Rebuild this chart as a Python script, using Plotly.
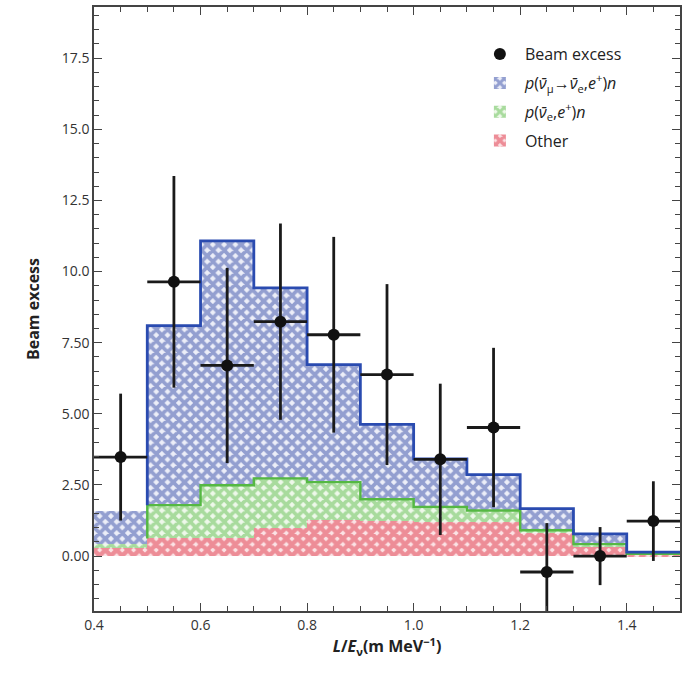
import plotly.graph_objects as go

# ---- data ----
bin_lo = [0.4, 0.5, 0.6, 0.7, 0.8, 0.9, 1.0, 1.1, 1.2, 1.3, 1.4]
bin_width = 0.1
other = [0.30, 0.62, 0.62, 1.00, 1.26, 1.22, 1.20, 1.20, 0.80, 0.33, 0.05]
intrinsic = [0.12, 1.17, 1.87, 1.73, 1.34, 0.78, 0.53, 0.40, 0.11, 0.09, 0.03]
oscillation = [1.18, 6.31, 8.59, 6.70, 4.13, 2.63, 1.69, 1.26, 0.76, 0.36, 0.06]

data_x = [0.45, 0.55, 0.65, 0.75, 0.85, 0.95, 1.05, 1.15, 1.25, 1.35, 1.45]
data_y = [3.48, 9.64, 6.70, 8.24, 7.78, 6.38, 3.40, 4.52, -0.56, 0.00, 1.23]
data_err = [2.23, 3.72, 3.43, 3.45, 3.44, 3.18, 2.66, 2.80, 1.72, 1.02, 1.40]

ytick_vals = [0, 2.5, 5, 7.5, 10, 12.5, 15, 17.5]
ytick_text = ["0.00", "2.50", "5.00", "7.50", "10.0", "12.5", "15.0", "17.5"]
xtick_vals = [0.4, 0.6, 0.8, 1.0, 1.2, 1.4]
xtick_text = ["0.4", "0.6", "0.8", "1.0", "1.2", "1.4"]

RED = "#e0374a"
GREEN = "#62bd50"
BLUE = "#3a4fa8"
FONT = "Open Sans"

centers = [b + bin_width / 2 for b in bin_lo]
cum_red = other
cum_green = [a + b for a, b in zip(other, intrinsic)]
cum_blue = [a + b for a, b in zip(cum_green, oscillation)]


def hatch(color, bg, solidity):
    return dict(color=bg, line=dict(width=0),
                pattern=dict(shape="x", size=8, solidity=solidity, fgcolor=color,
                             bgcolor=bg, fillmode="overlay"))


fig = go.Figure()

fig.add_trace(go.Bar(
    x=centers, y=other, width=bin_width, name="Other",
    marker=hatch(RED, "#fbe3e5", 0.8), legendrank=4, legendgroup="d",
))
fig.add_trace(go.Bar(
    x=centers, y=intrinsic, width=bin_width,
    name="<i>p</i>(<i>ν̄</i><sub>e</sub>,<i>e</i><sup>+</sup>)<i>n</i>",
    marker=hatch(GREEN, "#eef8ea", 0.72), legendrank=3, legendgroup="c",
))
fig.add_trace(go.Bar(
    x=centers, y=oscillation, width=bin_width,
    name="<i>p</i>(<i>ν̄</i><sub>μ</sub>→<i>ν̄</i><sub>e</sub>,<i>e</i><sup>+</sup>)<i>n</i>",
    marker=hatch(BLUE, "#eceef8", 0.72), legendrank=2, legendgroup="b",
))

# step outlines (from 0.5 onwards)
edges = bin_lo[1:] + [bin_lo[-1] + bin_width]
gx = [edges[0]] + edges
gy = [cum_red[1]] + cum_green[1:] + [cum_green[-1]]
by = [cum_green[1]] + cum_blue[1:] + [cum_blue[-1]]
fig.add_trace(go.Scatter(x=gx, y=gy, mode="lines", line=dict(color="#55b843", width=2.4, shape="hv"),
                         showlegend=False, hoverinfo="skip"))
fig.add_trace(go.Scatter(x=gx, y=by, mode="lines", line=dict(color="#2a4bb0", width=2.8, shape="hv"),
                         showlegend=False, hoverinfo="skip"))

fig.add_trace(go.Scatter(
    x=data_x, y=data_y, mode="markers", name="Beam excess",
    marker=dict(color="#111111", size=12),
    error_y=dict(type="data", array=data_err, color="#1a1a1a", thickness=2.8, width=0),
    error_x=dict(type="constant", value=bin_width / 2, color="#1a1a1a", thickness=2.8, width=0),
    legendrank=1, legendgroup="a",
))

axis_common = dict(
    showline=True, linecolor="#444444", linewidth=1.5, mirror="ticks",
    ticks="inside", ticklen=8, tickwidth=1.2, tickcolor="#444444",
    showgrid=False, zeroline=False,
    tickfont=dict(family=FONT, size=14, color="#333333"),
)

fig.update_layout(
    width=687, height=673,
    margin=dict(l=94, r=5, t=6, b=62),
    barmode="stack", bargap=0,
    plot_bgcolor="white", paper_bgcolor="white",
    font=dict(family=FONT, color="#222222"),
    xaxis=dict(range=[0.4, 1.5], tickvals=xtick_vals, ticktext=xtick_text,
               minor=dict(dtick=0.05, ticks="inside", ticklen=5, tickcolor="#444444", showgrid=False),
               title=dict(text="<b><i>L</i>/<i>E</i><sub>ν</sub>(m MeV<sup>−1</sup>)</b>",
                          font=dict(family=FONT, size=16, color="#222222"), standoff=2),
               **axis_common),
    yaxis=dict(range=[-1.93, 19.3], tickvals=ytick_vals, ticktext=ytick_text,
               minor=dict(dtick=0.5, tick0=0, ticks="inside", ticklen=5, tickcolor="#444444", showgrid=False),
               title=dict(text="<b>Beam excess</b>", font=dict(family=FONT, size=16, color="#222222"), standoff=18),
               **axis_common),
    legend=dict(x=0.65, y=0.95, xanchor="left", yanchor="top",
                bgcolor="rgba(0,0,0,0)", font=dict(family=FONT, size=16, color="#222222"),
                traceorder="grouped", itemwidth=40, tracegroupgap=5),
)

fig.write_html("out.html")
